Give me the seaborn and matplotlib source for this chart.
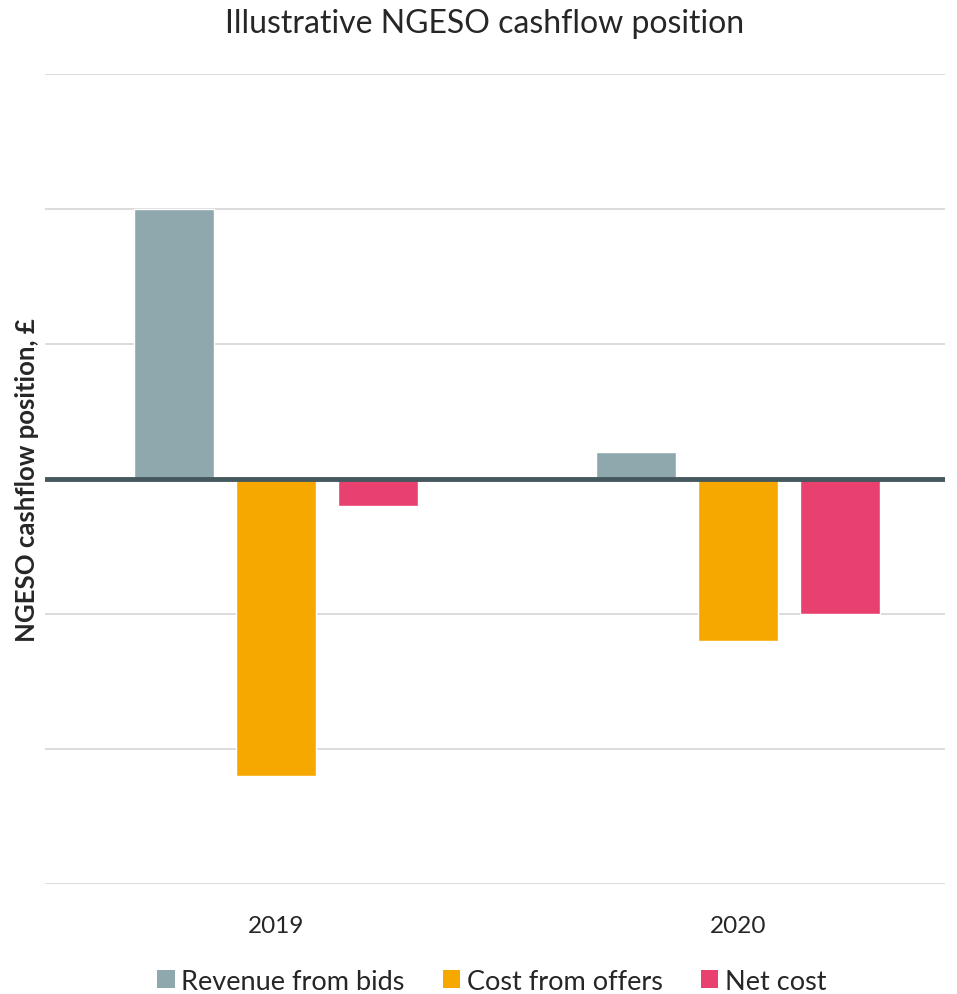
import matplotlib
matplotlib.use("Agg")
import matplotlib.pyplot as plt
import seaborn as sns
import pandas as pd
from matplotlib.patches import Patch

years = ["2019", "2020"]
series = ["Revenue from bids", "Cost from offers", "Net cost"]
revenue = [2.0, 0.2]
cost = [-2.2, -1.2]
net = [-0.2, -1.0]
colors = ["#8FA8AD", "#F6A800", "#E8406F"]

rows = []
for s, vals in zip(series, [revenue, cost, net]):
    for y, v in zip(years, vals):
        rows.append({"Year": y, "Series": s, "Value": v})
df = pd.DataFrame(rows)

sns.set_theme(style="white")
plt.rcParams["font.family"] = ["Lato", "DejaVu Sans"]

fig = plt.figure(figsize=(9.57, 9.95), dpi=100)
ax = fig.add_axes([45/957, 1-885/995, 900/957, 810/995])

sns.barplot(data=df, x="Year", y="Value", hue="Series", palette=colors,
            hue_order=series, order=years, width=0.662, gap=0.216,
            saturation=1, ax=ax, legend=False, zorder=3)

ax.set_ylim(-3, 3)
ax.set_xlim(-0.5, 1.448)
ax.set_yticks([-3, -2, -1, 0, 1, 2, 3])
ax.set_yticklabels([])
ax.tick_params(axis="y", length=0)
ax.tick_params(axis="x", length=0, labelsize=17.5, pad=22)
ax.yaxis.grid(True, color="#D9D9D9", linewidth=1.3, zorder=0)
ax.set_axisbelow(True)
for sp in ax.spines.values():
    sp.set_visible(False)
ax.axhline(0, color="#45585E", linewidth=3.5, zorder=4)

ax.set_xlabel("")
ax.set_ylabel("NGESO cashflow position, £", fontsize=18.5, fontweight="bold")
ax.yaxis.set_label_coords(-0.007, 0.5)
ax.set_title("Illustrative NGESO cashflow position", fontsize=23, pad=30,
             x=(485 - 45) / 900)

handles = [Patch(facecolor=c, edgecolor="none") for c in colors]
fig.legend(handles, series, loc="lower center", bbox_to_anchor=(0.514, -0.024),
           ncol=3, frameon=False, fontsize=19.5, handlelength=0.65, handleheight=0.65,
           handletextpad=0.25, columnspacing=1.4)

fig.savefig("out.png", dpi=100)
